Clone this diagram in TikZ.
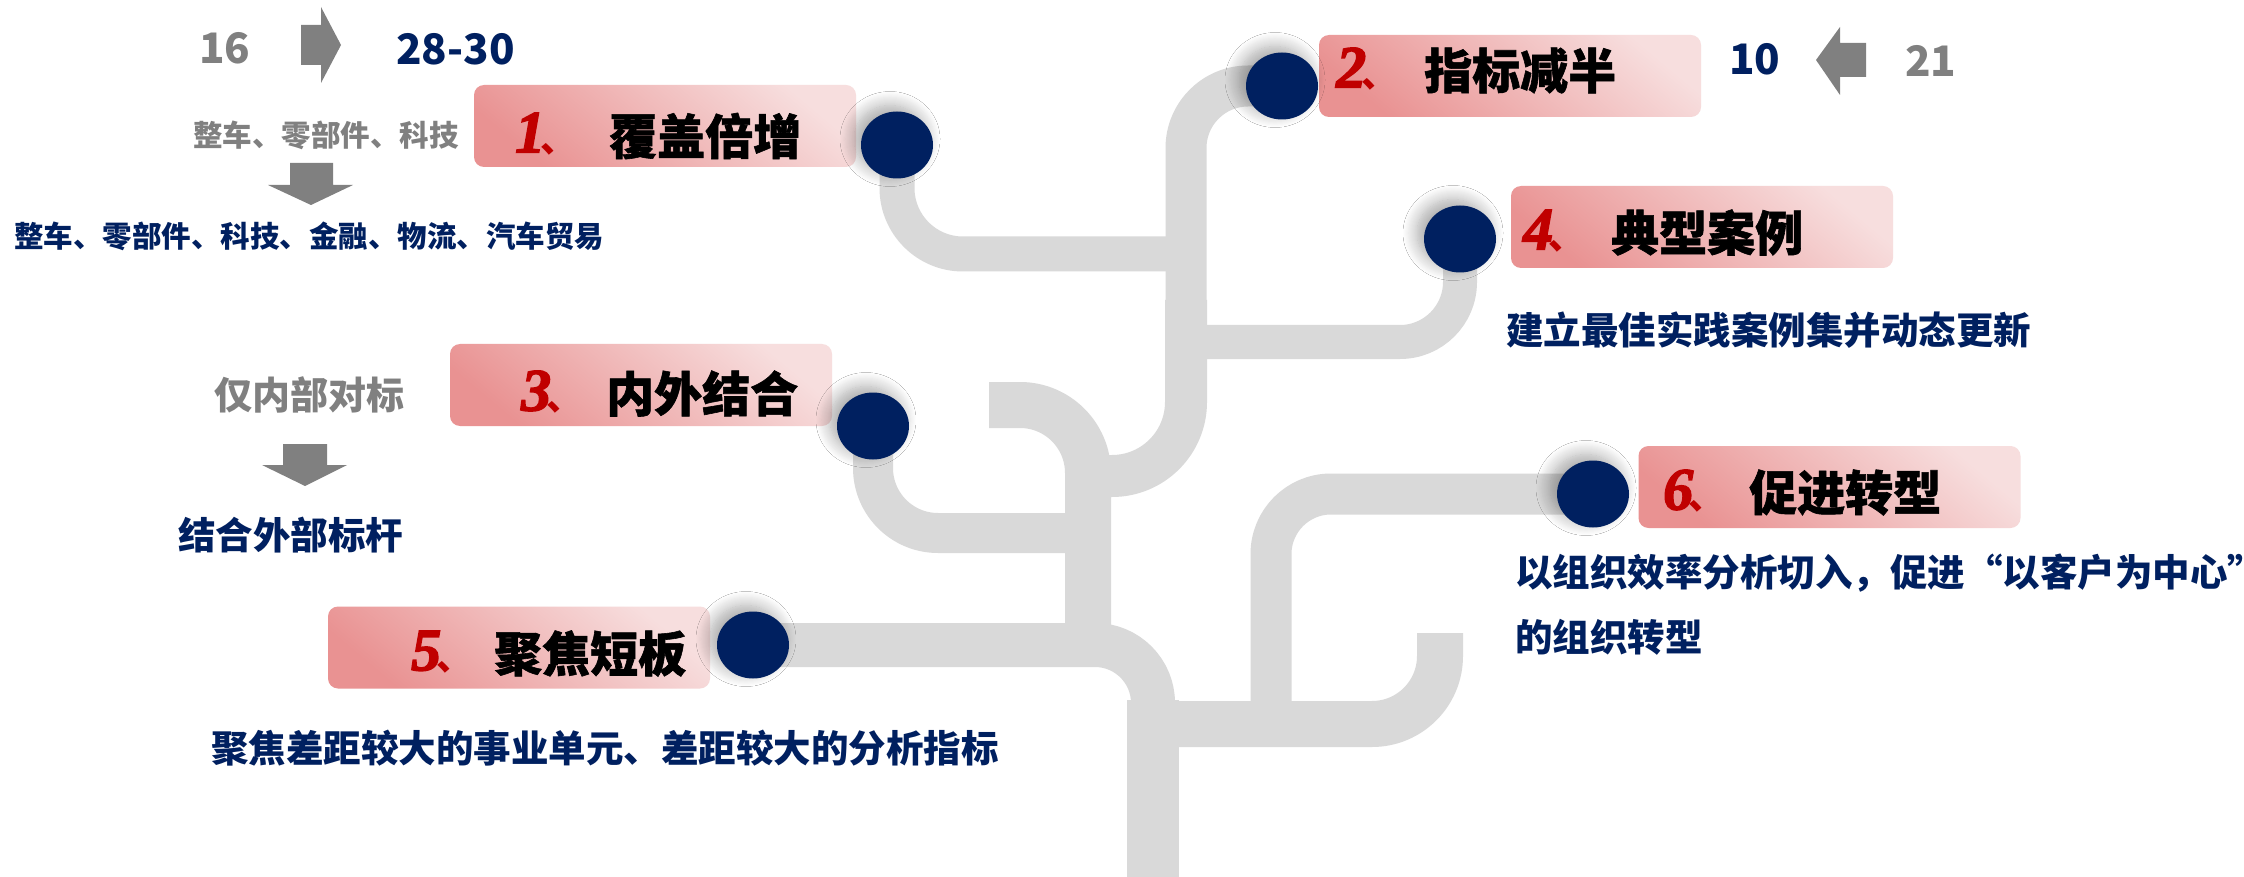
\documentclass[tikz,border=0pt]{standalone}
\usepackage{fontspec}
\newfontfamily\cjk{Noto Sans CJK SC}
\newfontfamily\cjkheavy{Noto Sans CJK SC}[BoldFeatures={FakeBold=1.2}]
\newfontfamily\digitfont{Liberation Serif}[FakeBold=2.5]
\usetikzlibrary{shapes.geometric,shadows.blur}
\definecolor{navy}{RGB}{0,32,96}
\definecolor{treegray}{RGB}{217,217,217}
\definecolor{txtgray}{RGB}{128,128,128}
\definecolor{darkred}{RGB}{192,0,0}
\definecolor{boxlight}{RGB}{247,222,222}
\definecolor{boxdark}{RGB}{233,146,146}
\begin{document}
\begin{tikzpicture}[x=1pt,y=-1pt,
  branch/.style={draw=treegray, line cap=butt, line join=round},
  dot/.style={ellipse, fill=navy, minimum width=72pt, minimum height=67pt, inner sep=0pt,
    blur shadow={shadow xshift=-7pt, shadow yshift=6pt, shadow blur radius=14pt, shadow blur steps=14, shadow opacity=35}},
  labelbox/.style={rectangle, rounded corners=10pt, minimum width=382pt, minimum height=82pt, inner sep=0pt,
    shade, shading=axis, top color=boxlight, bottom color=boxdark, shading angle=-40},
  numlab/.style={anchor=west, inner sep=0pt, text=darkred, font=\digitfont\bfseries\itshape\fontsize{60}{60}\selectfont},
  headlab/.style={anchor=west, inner sep=0pt, text=black, font=\cjkheavy\bfseries\fontsize{48}{52}\selectfont},
  desc/.style={anchor=west, inner sep=0pt, text=navy, font=\cjk\bfseries\fontsize{37.5}{44}\selectfont},
  graydesc/.style={anchor=west, inner sep=0pt, text=txtgray, font=\cjk\bfseries\fontsize{38}{44}\selectfont},
  smallgray/.style={anchor=west, inner sep=0pt, text=txtgray, font=\cjk\bfseries\fontsize{29.5}{34}\selectfont},
  smallnavy/.style={anchor=west, inner sep=0pt, text=navy, font=\cjk\bfseries\fontsize{29.5}{34}\selectfont},
  bignum/.style={anchor=west, inner sep=0pt, font=\cjk\bfseries\fontsize{42}{44}\selectfont},
  arrowfill/.style={fill=txtgray}
]
\newcommand{\dun}{\hspace{-5pt}{\cjk\bfseries\fontsize{36}{36}\selectfont\makebox[15pt][l]{、}}}
\useasboundingbox (0,0) rectangle (2244,877);
\fill[white] (0,0) rectangle (2244,877);

% anchor points of the dots
\coordinate (p1) at (897,145);
\coordinate (p2) at (1282,86);
\coordinate (p3) at (873,426);
\coordinate (p4) at (1460,239);
\coordinate (p5) at (753,645);
\coordinate (p6) at (1593,494);

% tree branches
\draw[branch, line width=41pt, rounded corners=62pt] (p2) -- (1186,86) -- (1186,320);
\draw[branch, line width=42pt, rounded corners=74pt] (1186,300) -- (1186,476) -- (1088,476);
\draw[branch, line width=35pt, rounded corners=66pt] (p1) -- (897,254) -- (1186,254);
\draw[branch, line width=34pt, rounded corners=60pt] (1186,342) -- (1460,342) -- (p4);
\draw[branch, line width=46pt, rounded corners=68pt] (989,405) -- (1088,405) -- (1088,646);
\draw[branch, line width=40pt, rounded corners=65pt] (p3) -- (873,533) -- (1088,533);
\draw[branch, line width=44pt, rounded corners=58pt] (p5) -- (1153,645) -- (1153,877);
\fill[treegray] (1127,700) rectangle (1179,877);
\draw[branch, line width=46pt, rounded corners=68pt] (1153,724) -- (1440,724) -- (1440,633);
\draw[branch, line width=41pt, rounded corners=60pt] (1271,724) -- (1271,494) -- (p6);

% label boxes
\node[labelbox] (b1) at (665,126) {};
\node[labelbox] (b2) at (1510,76) {};
\node[labelbox] (b3) at (641,385) {};
\node[labelbox] (b4) at (1702,227) {};
\node[labelbox] (b5) at (519,647.5) {};
\node[labelbox] (b6) at (1829.5,487) {};

% dots
\node[dot] (c1) at (p1) {};
\node[dot] (c2) at (p2) {};
\node[dot] (c3) at (p3) {};
\node[dot] (c4) at (p4) {};
\node[dot] (c5) at (p5) {};
\node[dot] (c6) at (p6) {};

% box labels
\node[numlab] (n1) at (515,134) {1\dun};
\node[headlab] (h1) at (609,136) {覆盖倍增};
\node[numlab] (n2) at (1336,69) {2\dun};
\node[headlab] (h2) at (1424,70.5) {指标减半};
\node[numlab] (n3) at (521,392) {3\dun};
\node[headlab] (h3) at (606,393.5) {内外结合};
\node[numlab] (n4) at (1523,231) {4\dun};
\node[headlab] (h4) at (1611,232.5) {典型案例};
\node[numlab] (n5) at (411,652) {5\dun};
\node[headlab] (h5) at (494,653.5) {聚焦短板};
\node[numlab] (n6) at (1663,491) {6\dun};
\node[headlab] (h6) at (1749,492.5) {促进转型};

% top left annotations
\node[bignum, text=txtgray] (t16) at (199,48) {16};
\fill[arrowfill] (301,25) -- (321,25) -- (321,7) -- (341,45) -- (321,83) -- (321,65) -- (301,65) -- cycle;
\node[bignum, text=navy] (t2830) at (396,49) {28-30};
\node[smallgray] (g1) at (193,135) {整车、零部件、科技};
\fill[arrowfill] (290,163) -- (333,163) -- (333,185) -- (353,185) -- (311,205) -- (268,185) -- (290,185) -- cycle;
\node[smallnavy] (s1) at (14,236) {整车、零部件、科技、金融、物流、汽车贸易};

\node[graydesc] (g3) at (214,395) {仅内部对标};
\fill[arrowfill] (283,444) -- (327,444) -- (327,465) -- (347,465) -- (305,486) -- (262,465) -- (283,465) -- cycle;
\node[desc] (d3) at (178,535) {结合外部标杆};

\node[desc] (d5) at (211,748) {聚焦差距较大的事业单元、差距较大的分析指标};

% top right annotations
\node[bignum, text=navy] (t10) at (1729,59) {10};
\fill[arrowfill] (1866,43) -- (1840,43) -- (1840,27) -- (1816,60) -- (1840,95) -- (1840,77) -- (1866,77) -- cycle;
\node[bignum, text=txtgray] (t21) at (1905,61) {21};

\node[desc] (d4) at (1506,330) {建立最佳实践案例集并动态更新};
\node[desc] (d6a) at (1515,573) {以组织效率分析切入，促进“以客户为中心”};
\node[desc] (d6b) at (1515,637) {的组织转型};
\end{tikzpicture}
\end{document}
